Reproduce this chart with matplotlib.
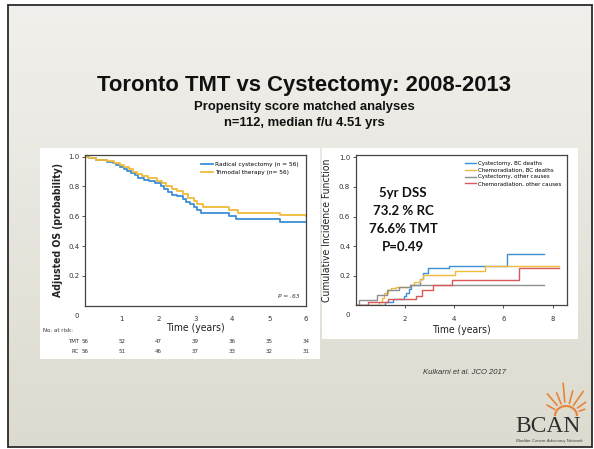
import numpy as np
import matplotlib
matplotlib.use("Agg")
import matplotlib.pyplot as plt
import matplotlib.transforms as mtrans
from matplotlib.patches import Rectangle, Arc

# ---------------- data ----------------
os_rc_t = [0, 0.1, 0.3, 0.6, 0.75, 0.85, 0.95, 1.05, 1.15, 1.25, 1.35, 1.45, 1.6, 1.75, 1.9,
           2.05, 2.15, 2.25, 2.35, 2.5, 2.65, 2.75, 2.85, 2.95, 3.05, 3.15, 3.9, 4.1, 5.3, 6.0]
os_rc_s = [1.0, 0.99, 0.975, 0.965, 0.955, 0.945, 0.93, 0.92, 0.905, 0.89, 0.875, 0.86, 0.845, 0.835, 0.82,
           0.80, 0.78, 0.76, 0.745, 0.735, 0.715, 0.695, 0.68, 0.66, 0.64, 0.625, 0.60, 0.58, 0.56, 0.56]
os_tmt_t = [0, 0.1, 0.3, 0.6, 0.8, 0.95, 1.05, 1.2, 1.3, 1.4, 1.55, 1.7, 1.95, 2.1, 2.2, 2.35,
            2.5, 2.65, 2.8, 2.95, 3.05, 3.2, 3.9, 4.15, 5.3, 6.0]
os_tmt_s = [1.0, 0.99, 0.98, 0.97, 0.96, 0.945, 0.93, 0.915, 0.9, 0.885, 0.87, 0.855, 0.84, 0.82, 0.80, 0.785,
            0.77, 0.75, 0.72, 0.70, 0.68, 0.665, 0.645, 0.625, 0.61, 0.605]

risk_times = [0, 1, 2, 3, 4, 5, 6]
risk_tmt = [56, 52, 47, 39, 36, 35, 34]
risk_rc = [56, 51, 46, 37, 33, 32, 31]

cif_rc_bc_t = [0, 0.95, 1.2, 1.5, 1.95, 2.05, 2.15, 2.25, 2.6, 2.75, 2.95, 3.8, 6.16, 7.66]
cif_rc_bc_v = [0, 0.0, 0.02, 0.04, 0.06, 0.08, 0.11, 0.14, 0.18, 0.22, 0.25, 0.268, 0.344, 0.344]
cif_tmt_bc_t = [0, 0.95, 1.05, 1.15, 1.3, 1.45, 1.65, 2.2, 2.35, 2.6, 2.75, 4.05, 5.25, 8.27]
cif_tmt_bc_v = [0, 0.02, 0.05, 0.08, 0.10, 0.115, 0.125, 0.14, 0.16, 0.18, 0.205, 0.232, 0.268, 0.268]
cif_rc_oc_t = [0, 0.15, 0.85, 1.25, 1.75, 2.2, 7.66]
cif_rc_oc_v = [0, 0.035, 0.07, 0.10, 0.125, 0.137, 0.137]
cif_tmt_oc_t = [0, 0.5, 1.3, 2.45, 2.7, 3.15, 3.9, 6.63, 8.27]
cif_tmt_oc_v = [0, 0.02, 0.04, 0.06, 0.10, 0.14, 0.17, 0.25, 0.25]

C_BLUE = "#3d8fd6"
C_YEL = "#efbb3a"
C_GRAY = "#8e8e8e"
C_RED = "#d9595a"

W, H = 594, 449
fig = plt.figure(figsize=(W / 100, H / 100), dpi=100)

# ---------------- background (pixel coordinates) ----------------
bg = fig.add_axes([0, 0, 1, 1], zorder=0)
bg.set_xlim(0, W)
bg.set_ylim(H, 0)
bg.axis("off")
grad = np.linspace(0, 1, 256)[:, None]
top = np.array([0.945, 0.941, 0.925])
bot = np.array([0.866, 0.859, 0.812])
img = top[None, None, :] * (1 - grad[:, :, None]) + bot[None, None, :] * grad[:, :, None]
bg.imshow(img, extent=[8, 592, 447, 5], aspect="auto", zorder=0)
bg.add_patch(Rectangle((8, 5), 584, 442, fill=False, ec="#2a2a2a", lw=1.3, zorder=2))
# white panels
bg.add_patch(Rectangle((40, 148), 280, 211, fc="white", ec="none", zorder=1))
bg.add_patch(Rectangle((322, 148), 256, 191, fc="white", ec="none", zorder=1))

# titles
bg.text(304, 86, "Toronto TMT vs Cystectomy: 2008-2013", ha="center", va="center",
        fontsize=15.8, fontweight="bold", family="Liberation Sans", color="#111111", zorder=3)
bg.text(304, 107, "Propensity score matched analyses", ha="center", va="center",
        fontsize=9.4, fontweight="bold", family="Liberation Sans", color="#111111", zorder=3)
bg.text(304, 123, "n=112, median f/u 4.51 yrs", ha="center", va="center",
        fontsize=9.4, fontweight="bold", family="Liberation Sans", color="#111111", zorder=3)
bg.text(423, 373, "Kulkarni et al. JCO 2017", ha="left", va="center", fontsize=5.5,
        style="italic", family="Liberation Sans", color="#333333", zorder=3)

# BCAN logo
orange = "#e8843a"
cx, cy = 566, 416
for ang, r0, r1 in [(35, 14, 24), (55, 13, 30), (75, 13, 26), (95, 14, 33), (112, 13, 25),
                    (130, 14, 29), (150, 13, 22), (20, 14, 20)]:
    a = np.deg2rad(ang)
    bg.plot([cx + r0 * np.cos(a), cx + r1 * np.cos(a)], [cy - r0 * np.sin(a), cy - r1 * np.sin(a)],
            color=orange, lw=1.2, solid_capstyle="round", zorder=3)
bg.add_patch(Arc((cx, cy), 22, 20, theta1=180, theta2=360, color=orange, lw=1.5, zorder=3))
bg.text(548, 426, "BCAN", ha="center", va="center", fontsize=17, family="Liberation Serif",
        color="#2f2f2f", zorder=3)
bg.text(549, 441, "Bladder Cancer Advocacy Network", ha="center", va="center", fontsize=3.2,
        family="Liberation Sans", color="#444444", zorder=3)

NARROW = dict(family="DejaVu Sans", fontstretch="condensed")

# ---------------- left plot ----------------
ax1 = fig.add_axes([85 / W, 1 - 305.8 / H, 221 / W, 150.8 / H], zorder=2)
ax1.step(os_rc_t, os_rc_s, where="post", color=C_BLUE, lw=1.3, label="Radical cystectomy (n = 56)")
ax1.step(os_tmt_t, os_tmt_s, where="post", color=C_YEL, lw=1.3, label="Trimodal therapy (n= 56)")
ax1.set_xlim(0, 6)
ax1.set_ylim(0, 1.011)
ax1.set_yticks([0.2, 0.4, 0.6, 0.8, 1.0])
ax1.set_yticklabels(["0.2", "0.4", "0.6", "0.8", "1.0"])
ax1.set_xticks([1, 2, 3, 4, 5, 6])
ax1.tick_params(labelsize=5, length=2, width=0.6, pad=2, colors="#333333")
ax1.tick_params(axis="x", length=0, pad=7)
for s in ax1.spines.values():
    s.set_color("#444444")
    s.set_linewidth(0.9)
ax1.text(-0.23, -0.065, "0", transform=mtrans.blended_transform_factory(ax1.transData, ax1.transAxes),
         ha="center", va="center", fontsize=5, color="#333333")
ax1.set_xlabel("Time (years)", fontsize=7.5, labelpad=1, color="#222222", **NARROW)
ax1.set_ylabel("Adjusted OS (probability)", fontsize=7.5, fontweight="bold",
               labelpad=4, color="#222222", **NARROW)
leg = ax1.legend(loc="upper right", fontsize=4.2, frameon=False, handlelength=2.0,
                 handletextpad=0.4, labelspacing=0.5, borderaxespad=0.8)
ax1.text(0.97, 0.06, "P = .63", transform=ax1.transAxes, ha="right", va="center",
         fontsize=4.2, style="italic", color="#333333")

# number at risk
tr = mtrans.blended_transform_factory(ax1.transData, bg.transData)
bg.text(43, 331, "No. at risk:", ha="left", va="center", fontsize=4, color="#333333", zorder=3)
bg.text(79, 341.7, "TMT", ha="right", va="center", fontsize=4, color="#333333", zorder=3)
bg.text(79, 351.7, "RC", ha="right", va="center", fontsize=4, color="#333333", zorder=3)
for t, a, b in zip(risk_times, risk_tmt, risk_rc):
    ax1.text(t, 341.7, str(a), transform=tr, ha="center", va="center", fontsize=4, color="#333333",
             clip_on=False)
    ax1.text(t, 351.7, str(b), transform=tr, ha="center", va="center", fontsize=4, color="#333333",
             clip_on=False)

# ---------------- right plot ----------------
ax2 = fig.add_axes([355.8 / W, 1 - 305.25 / H, 210.9 / W, 150.25 / H], zorder=2)
ax2.step(cif_rc_bc_t, cif_rc_bc_v, where="post", color=C_BLUE, lw=1.0, label="Cystectomy, BC deaths")
ax2.step(cif_tmt_bc_t, cif_tmt_bc_v, where="post", color=C_YEL, lw=1.0, label="Chemoradiation, BC deaths")
ax2.step(cif_rc_oc_t, cif_rc_oc_v, where="post", color=C_GRAY, lw=1.0, label="Cystectomy, other causes")
ax2.step(cif_tmt_oc_t, cif_tmt_oc_v, where="post", color=C_RED, lw=1.0, label="Chemoradiation, other causes")
ax2.set_xlim(0, 8.57)
ax2.set_ylim(0, 1.016)
ax2.set_yticks([0.2, 0.4, 0.6, 0.8, 1.0])
ax2.set_yticklabels(["0.2", "0.4", "0.6", "0.8", "1.0"])
ax2.set_xticks([2, 4, 6, 8])
ax2.tick_params(labelsize=5, length=2, width=0.6, pad=2, colors="#333333")
ax2.tick_params(axis="x", pad=6)
for s in ax2.spines.values():
    s.set_color("#444444")
    s.set_linewidth(0.9)
ax2.text(-0.33, -0.065, "0", transform=mtrans.blended_transform_factory(ax2.transData, ax2.transAxes),
         ha="center", va="center", fontsize=5, color="#333333")
ax2.set_xlabel("Time (years)", fontsize=7.5, labelpad=2, color="#222222", **NARROW)
ax2.set_ylabel("Cumulative Incidence Function", fontsize=7.5, labelpad=5, color="#222222", **NARROW)
ax2.legend(loc="upper right", fontsize=4, frameon=False, handlelength=2.0,
           handletextpad=0.4, labelspacing=0.35, borderaxespad=0.6)
dss = ["5yr DSS", "73.2 % RC", "76.6% TMT", "P=0.49"]
for i, line in enumerate(dss):
    ax2.text(0.225, 0.75 - i * 0.12, line, transform=ax2.transAxes, ha="center", va="center",
             fontsize=9.5, fontweight="bold", family="Lato", color="#111111")

fig.savefig("out.png", dpi=100)
